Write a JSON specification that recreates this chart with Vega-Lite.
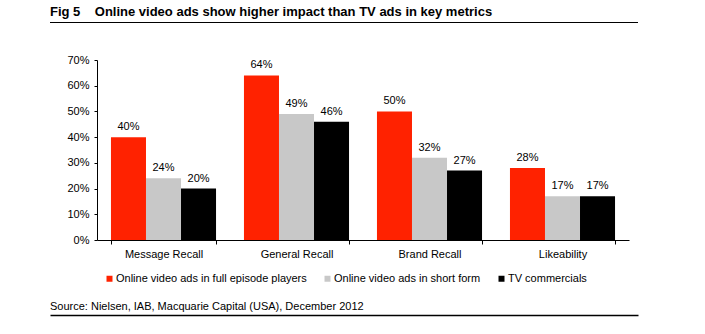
{
  "$schema": "https://vega.github.io/schema/vega-lite/v6.json",
  "padding": {"left": 50, "top": 6, "right": 10, "bottom": 10},
  "config": {
    "font": "Liberation Sans",
    "view": {"stroke": null},
    "axis": {"labelColor": "#000", "domainColor": "#000", "tickColor": "#000", "labelFontSize": 11, "grid": false, "title": null}
  },
  "spacing": 31,
  "resolve": {"legend": {"color": "independent"}},
  "vconcat": [
    {
      "width": 588,
      "height": 1,
      "view": {"fill": "#000", "stroke": null},
      "title": {
        "text": "Fig 5\u00a0\u00a0\u00a0\u00a0Online video ads show higher impact than TV ads in key metrics",
        "anchor": "start",
        "frame": "group",
        "fontSize": 13,
        "fontWeight": "bold",
        "color": "#000",
        "offset": 3
      },
      "data": {"values": []},
      "mark": "point"
    },
    {
      "spacing": 17,
      "resolve": {"legend": {"color": "independent"}},
      "vconcat": [
        {
          "spacing": 0,
          "resolve": {"legend": {"color": "independent"}},
          "hconcat": [
            {
              "width": 1,
              "height": 1,
              "data": {"values": []},
              "mark": "point"
            },
            {
              "width": 532,
              "height": 180,
              "data": {
                "values": [
                  {"metric": "Message Recall", "series": "Online video ads in full episode players", "value": 0.40},
                  {"metric": "Message Recall", "series": "Online video ads in short form", "value": 0.24},
                  {"metric": "Message Recall", "series": "TV commercials", "value": 0.20},
                  {"metric": "General Recall", "series": "Online video ads in full episode players", "value": 0.64},
                  {"metric": "General Recall", "series": "Online video ads in short form", "value": 0.49},
                  {"metric": "General Recall", "series": "TV commercials", "value": 0.46},
                  {"metric": "Brand Recall", "series": "Online video ads in full episode players", "value": 0.50},
                  {"metric": "Brand Recall", "series": "Online video ads in short form", "value": 0.32},
                  {"metric": "Brand Recall", "series": "TV commercials", "value": 0.27},
                  {"metric": "Likeability", "series": "Online video ads in full episode players", "value": 0.28},
                  {"metric": "Likeability", "series": "Online video ads in short form", "value": 0.17},
                  {"metric": "Likeability", "series": "TV commercials", "value": 0.17}
                ]
              },
              "encoding": {
                "x": {
                  "field": "metric",
                  "type": "nominal",
                  "sort": ["Message Recall", "General Recall", "Brand Recall", "Likeability"],
                  "scale": {"paddingInner": 0.21, "paddingOuter": 0.105},
                  "axis": {"labelAngle": 0, "tickBand": "extent", "tickSize": 4, "labelPadding": 4, "domainWidth": 1}
                },
                "xOffset": {
                  "field": "series",
                  "type": "nominal",
                  "sort": ["Online video ads in full episode players", "Online video ads in short form", "TV commercials"],
                  "scale": {"paddingInner": 0, "paddingOuter": 0}
                },
                "y": {
                  "field": "value",
                  "type": "quantitative",
                  "scale": {"domain": [0, 0.7]},
                  "axis": {"format": ".0%", "values": [0, 0.1, 0.2, 0.3, 0.4, 0.5, 0.6, 0.7], "tickSize": 3, "labelPadding": 5, "minExtent": 46, "maxExtent": 46}
                }
              },
              "layer": [
                {
                  "mark": {"type": "bar"},
                  "encoding": {
                    "color": {
                      "field": "series",
                      "type": "nominal",
                      "sort": ["Online video ads in full episode players", "Online video ads in short form", "TV commercials"],
                      "scale": {
                        "domain": ["Online video ads in full episode players", "Online video ads in short form", "TV commercials"],
                        "range": ["#ff2200", "#c8c8c8", "#000000"]
                      },
                      "legend": {
                        "title": null,
                        "orient": "none",
                        "legendX": 7,
                        "legendY": 213,
                        "direction": "horizontal",
                        "symbolType": "square",
                        "symbolSize": 36,
                        "symbolStrokeWidth": 0,
                        "labelFontSize": 11,
                        "labelColor": "#000",
                        "labelLimit": 400,
                        "labelOffset": 1,
                        "columnPadding": 15,
                        "padding": 0
                      }
                    }
                  }
                },
                {
                  "mark": {"type": "text", "baseline": "alphabetic", "dy": -7, "fontSize": 11, "color": "#000"},
                  "encoding": {"text": {"field": "value", "type": "quantitative", "format": ".0%"}}
                }
              ]
            }
          ]
        },
        {
          "width": 588,
          "height": 0,
          "title": {
            "text": "Source: Nielsen, IAB, Macquarie Capital (USA), December 2012",
            "anchor": "start",
            "frame": "group",
            "fontSize": 11,
            "fontWeight": "normal",
            "color": "#000",
            "offset": 3
          },
          "data": {"values": []},
          "mark": "point",
          "encoding": {
            "x": {
              "field": "a",
              "type": "quantitative",
              "scale": {"domain": [0, 1]},
              "axis": {"orient": "top", "labels": false, "ticks": false, "domain": true, "domainWidth": 1.3, "domainColor": "#000"}
            }
          }
        }
      ]
    }
  ]
}
